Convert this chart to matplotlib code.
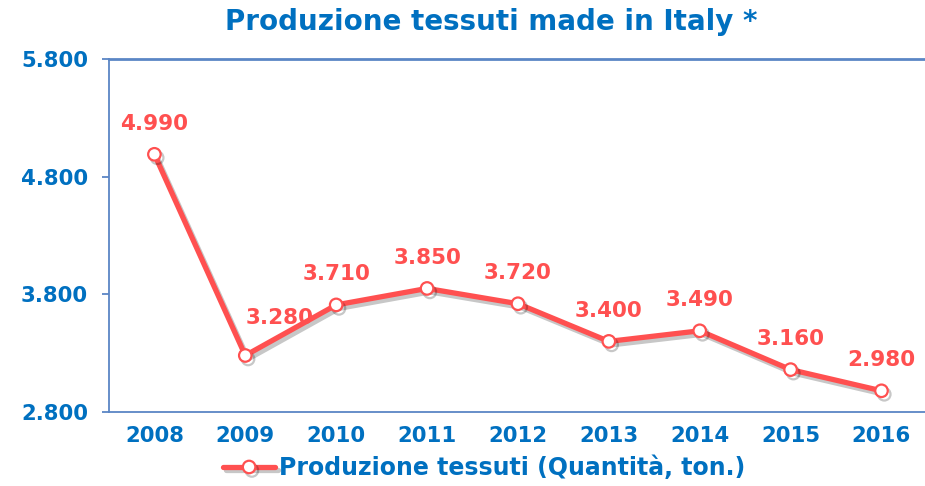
import matplotlib.pyplot as plt
import matplotlib.patheffects as pe
from matplotlib.ticker import FuncFormatter

# data
years = ['2008', '2009', '2010', '2011', '2012', '2013', '2014', '2015', '2016']
production = [4990, 3280, 3710, 3850, 3720, 3400, 3490, 3160, 2980]
y_ticks = [2800, 3800, 4800, 5800]

blue = '#0070C0'
red = '#FF5050'
axis_col = '#5B86C5'

plt.rcParams['font.family'] = ['DejaVu Sans']
plt.rcParams['font.weight'] = 'bold'

fig = plt.figure(figsize=(9.25, 4.86), dpi=100)
ax = fig.add_axes([0.1178, 0.1523, 0.8843, 0.7263])

x = list(range(len(years)))
line, = ax.plot(x, production, color=red, lw=3.8, marker='o', markersize=9,
                markerfacecolor='white', markeredgecolor=red, markeredgewidth=1.6,
                solid_capstyle='round', label='Produzione tessuti (Quantità, ton.)',
                path_effects=[pe.SimpleLineShadow(offset=(2, -2.5), shadow_color='black', alpha=0.22),
                              pe.Normal()])

# data labels
for i, v in enumerate(production):
    lbl = f"{v:,}".replace(',', '.')
    off = (25, 27) if i == 1 else (0, 22)
    ax.annotate(lbl, (i, v), xytext=off, textcoords='offset points',
                ha='center', va='center', color=red, fontsize=15.5, fontweight='bold')

ax.set_xlim(-0.5, len(years) - 0.5)
ax.set_ylim(2800, 5800)
ax.set_yticks(y_ticks)
ax.yaxis.set_major_formatter(FuncFormatter(lambda v, p: f"{int(v):,}".replace(',', '.')))
ax.set_xticks(x)
ax.set_xticklabels(years)

for s in ['left', 'bottom', 'top']:
    ax.spines[s].set_color(axis_col)
    ax.spines[s].set_linewidth(1.3)
ax.spines['right'].set_visible(False)
ax.spines['top'].set_linewidth(2)

ax.tick_params(axis='y', colors=axis_col, length=5, width=1.3, pad=10, labelsize=15.3,
               labelcolor=blue)
ax.tick_params(axis='x', length=0, pad=10, labelsize=15.3, labelcolor=blue)
for t in ax.get_xticklabels() + ax.get_yticklabels():
    t.set_fontweight('bold')

fig.text(491 / 925, 1 - 22 / 486, 'Produzione tessuti made in Italy *', ha='center', va='center',
         color=blue, fontsize=20, fontweight='bold')

leg = fig.legend(handles=[line], loc='center', bbox_to_anchor=(484 / 925, 1 - 468 / 486),
                 frameon=False, handlelength=2.2, handletextpad=0.15, fontsize=17)
for t in leg.get_texts():
    t.set_color(blue)
    t.set_fontweight('bold')

fig.savefig('out.png', dpi=100)
